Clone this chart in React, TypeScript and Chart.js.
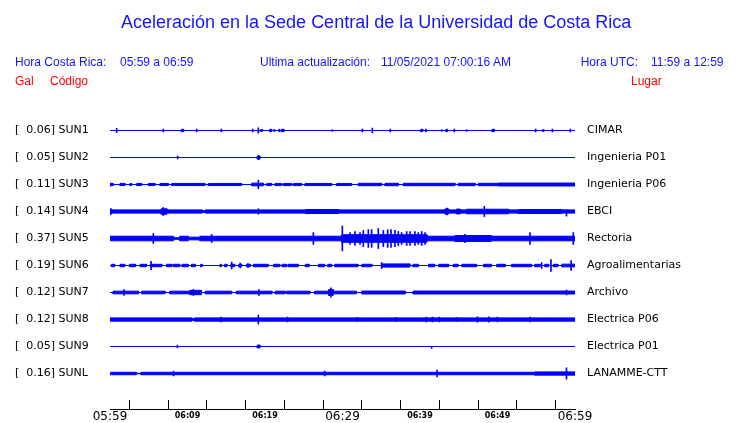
import { useEffect, useRef } from 'react';
import { Chart, registerables } from 'chart.js';

Chart.register(...registerables);

// ---------- data ----------
const stationCodes = ['SUN1', 'SUN2', 'SUN3', 'SUN4', 'SUN5', 'SUN6', 'SUN7', 'SUN8', 'SUN9', 'SUNL'];
const peakGal = [0.06, 0.05, 0.11, 0.14, 0.37, 0.19, 0.12, 0.12, 0.05, 0.16];
const stationPlaces = [
  'CIMAR', 'Ingenieria P01', 'Ingenieria P06', 'EBCI', 'Rectoria',
  'Agroalimentarias', 'Archivo', 'Electrica P06', 'Electrica P01', 'LANAMME-CTT',
];
// minutes after 05:59, one label every 10 minutes
const xTickLabels = ['05:59', '06:09', '06:19', '06:29', '06:39', '06:49', '06:59'];

// background noise half-amplitude of each trace (in trace-spacing units)
const noiseLevel = [0, 0, 0, 0.06, 0.085, 0, 0, 0.06, 0, 0.045];

// noise bursts: [startMinute, endMinute, halfAmplitude]
const burstsSUN1 = [[9.2, 9.5, 0.045], [19.4, 19.7, 0.03], [20.6, 20.85, 0.045], [22.1, 22.45, 0.045], [40.1, 40.35, 0.045], [43.35, 43.55, 0.045], [49.3, 49.6, 0.045], [55.8, 56.0, 0.03]];
const burstsSUN2 = [[19.0, 19.35, 0.055]];
const burstsSUN3 = [[0, 0.43, 0.04], [1.29, 1.94, 0.04], [2.58, 2.8, 0.04], [3.44, 4.09, 0.04], [4.95, 5.81, 0.04], [6.45, 7.53, 0.04], [7.96, 12.26, 0.04], [12.69, 16.99, 0.04], [18.28, 19.78, 0.05], [20.22, 20.86, 0.04], [21.29, 22.15, 0.04], [22.37, 23.44, 0.04], [23.66, 24.73, 0.04], [25.16, 28.6, 0.04], [29.25, 31.18, 0.04], [32.04, 35.05, 0.045], [35.48, 37.2, 0.045], [37.85, 44.52, 0.045], [44.95, 47.1, 0.045], [47.53, 50.11, 0.045], [50.11, 60, 0.055]];
const burstsSUN4 = [[0, 0.25, 0.09], [6.6, 7.35, 0.1], [11.9, 12.3, 0.03], [25.2, 29.5, 0.075], [43.2, 43.7, 0.095], [44.7, 45.2, 0.09], [46.0, 51.4, 0.085], [52.7, 58.3, 0.075]];
const burstsSUN5 = [[8.2, 9.0, 0.03], [10.1, 11.6, 0.05], [29.9, 40.9, 0.14], [44.5, 49.2, 0.11]];
const burstsSUN6 = [[0.2, 0.6, 0.045], [1.3, 1.9, 0.045], [2.5, 3.3, 0.045], [3.9, 4.7, 0.045], [5.2, 6.7, 0.045], [7.3, 8.0, 0.045], [8.2, 9.0, 0.045], [9.3, 10.1, 0.045], [10.5, 11.0, 0.045], [11.7, 11.9, 0.045], [14.2, 14.4, 0.045], [14.8, 15.1, 0.045], [15.6, 16.1, 0.045], [16.6, 17.0, 0.045], [17.6, 18.1, 0.045], [18.5, 20.4, 0.045], [21.1, 21.9, 0.045], [22.2, 22.8, 0.045], [23.0, 24.3, 0.045], [25.2, 25.7, 0.045], [26.9, 27.7, 0.045], [28.1, 28.6, 0.045], [29.0, 32.0, 0.045], [32.5, 33.8, 0.045], [35.1, 38.7, 0.06], [39.1, 39.8, 0.045], [41.1, 41.9, 0.045], [42.4, 43.7, 0.045], [44.3, 44.9, 0.045], [45.4, 47.3, 0.045], [48.2, 49.2, 0.045], [49.9, 51.0, 0.045], [51.8, 54.4, 0.045], [54.8, 55.5, 0.045], [56.1, 56.6, 0.045], [57.2, 57.8, 0.045], [58.3, 60, 0.05]];
const burstsSUN7 = [[0.4, 3.7, 0.05], [4.1, 7.1, 0.05], [7.7, 10.3, 0.05], [10.3, 11.8, 0.08], [12.3, 15.7, 0.05], [16.3, 20.9, 0.05], [21.3, 22.6, 0.05], [22.8, 25.8, 0.05], [26.4, 28.2, 0.05], [28.2, 28.8, 0.11], [28.8, 31.8, 0.05], [32.5, 38.1, 0.055], [39.1, 60, 0.055]];
const burstsSUN8 = [[10.6, 10.9, 0.03]];
const burstsSUN9 = [[19.0, 19.35, 0.055]];
const burstsSUNL = [[3.4, 4.0, 0.01], [54.8, 60, 0.06]];

// single spikes: [minute, halfAmplitudeUp, halfAmplitudeDown?]
const spikesSUN1 = [[0.86, 0.08], [6.88, 0.055], [11.18, 0.055], [14.37, 0.055], [18.41, 0.055], [19.14, 0.1], [21.2, 0.04], [21.85, 0.05], [28.69, 0.03], [32.56, 0.055], [33.85, 0.09], [36.17, 0.055], [40.77, 0.055], [42.8, 0.03], [44.43, 0.055], [46.02, 0.03], [54.92, 0.055], [57.08, 0.055], [59.4, 0.055]];
const spikesSUN2 = [[8.73, 0.055], [19.18, 0.08]];
const spikesSUN3 = [[0.1, 0.05], [19.14, 0.16]];
const spikesSUN4 = [[0.05, 0.11], [6.88, 0.15], [19.14, 0.1], [43.5, 0.13], [48.3, 0.19], [58.9, 0.06, 0.17]];
const spikesSUN5 = [[5.59, 0.185], [13.12, 0.15], [26.24, 0.22], [29.98, 0.46], [30.97, 0.22], [31.61, 0.26], [32.26, 0.22], [32.69, 0.3], [33.33, 0.33], [33.76, 0.33], [34.62, 0.37], [35.27, 0.3], [35.83, 0.33], [36.26, 0.33], [36.77, 0.3], [37.2, 0.26], [37.63, 0.22], [38.28, 0.26], [38.71, 0.26], [39.35, 0.26], [39.78, 0.22], [40.22, 0.26], [40.65, 0.22], [45.81, 0.15], [54.19, 0.22], [59.78, 0.22]];
const spikesSUN6 = [[5.3, 0.15], [15.7, 0.13], [16.8, 0.09], [17.8, 0.075], [35.05, 0.11], [55.7, 0.11], [56.9, 0.22], [59.5, 0.185]];
const spikesSUN7 = [[1.8, 0.11], [10.75, 0.11], [19.2, 0.11], [28.5, 0.17], [58.9, 0.09]];
const spikesSUN8 = [[19.14, 0.165], [14.3, 0.09], [22.9, 0.09], [31.9, 0.08], [36.9, 0.08], [40.8, 0.09], [41.6, 0.09], [42.5, 0.09], [44.7, 0.08], [47.4, 0.1], [48.9, 0.1], [50.0, 0.09], [54.2, 0.09]];
const spikesSUN9 = [[8.7, 0.05], [41.5, 0.0, 0.07]];
const spikesSUNL = [[8.2, 0.09], [27.7, 0.09], [42.2, 0.13], [58.9, 0.21]];

const allBursts = [burstsSUN1, burstsSUN2, burstsSUN3, burstsSUN4, burstsSUN5, burstsSUN6, burstsSUN7, burstsSUN8, burstsSUN9, burstsSUNL];
const allSpikes = [spikesSUN1, spikesSUN2, spikesSUN3, spikesSUN4, spikesSUN5, spikesSUN6, spikesSUN7, spikesSUN8, spikesSUN9, spikesSUNL];

const BLUE = '#0000ff';
const TEXT_BLUE = '#1414ff';
const RED = '#ff0000';
const SANS = '"Liberation Sans", Arial, sans-serif';
const DEJAVU = '"DejaVu Sans", sans-serif';

// envelope outline with vertical edges at each burst boundary
function envelope(base: number, bursts: number[][]) {
  const pts: number[][] = [[0, base]];
  for (const [s, e, a] of bursts) {
    pts.push([s, base]);
    pts.push([s, a]);
    pts.push([e, a]);
    pts.push([e, base]);
  }
  pts.push([60, base]);
  return pts;
}

export default function App() {
  const ref = useRef<HTMLCanvasElement>(null);

  useEffect(() => {
    if (!ref.current) return;
    const datasets: any[] = [];
    stationCodes.forEach((_, i) => {
      const pts = envelope(noiseLevel[i], allBursts[i]);
      datasets.push({
        type: 'line',
        data: pts.map(([x, a]) => ({ x, y: i - a })),
        borderColor: BLUE,
        borderWidth: 1,
        pointRadius: 0,
        tension: 0,
        fill: false,
      });
      datasets.push({
        type: 'line',
        data: pts.map(([x, a]) => ({ x, y: i + a })),
        borderColor: BLUE,
        backgroundColor: BLUE,
        borderWidth: 1,
        pointRadius: 0,
        tension: 0,
        fill: '-1',
      });
    });
    const spikeData: any[] = [];
    allSpikes.forEach((list, i) => {
      list.forEach((s) => {
        const up = s[1];
        const down = s.length > 2 ? s[2] : s[1];
        spikeData.push({ x: s[0], y: [i - up, i + down] });
      });
    });
    datasets.push({
      type: 'bar',
      data: spikeData,
      backgroundColor: BLUE,
      borderWidth: 0,
      barThickness: 1,
      grouped: false,
    });

    const rowTicks = (scale: any) => {
      scale.ticks = stationCodes.map((_, i) => ({ value: i }));
    };

    const chart = new Chart(ref.current, {
      type: 'bar',
      data: { datasets },
      options: {
        responsive: false,
        devicePixelRatio: 1,
        animation: false,
        events: [],
        layout: { padding: { top: 103, left: 15, right: 0, bottom: 0 } },
        plugins: { legend: { display: false }, tooltip: { enabled: false }, title: { display: false } },
        scales: {
          x: {
            type: 'linear',
            min: 0,
            max: 60,
            offset: false,
            afterBuildTicks: (scale: any) => {
              const t = [];
              for (let m = 0; m <= 60; m += 5) t.push({ value: m });
              scale.ticks = t;
            },
            afterFit: (scale: any) => { scale.height = 14; },
            grid: { display: true, drawOnChartArea: false, drawTicks: true, tickLength: -9, color: '#000', lineWidth: 1 },
            border: { display: true, color: '#000', width: 1 },
            ticks: {
              autoSkip: false,
              maxRotation: 0,
              minRotation: 0,
              padding: 10,
              color: '#000',
              callback: (v: any) => (Number(v) % 10 === 0 ? xTickLabels[Number(v) / 10] : ''),
              font: (ctx: any) => {
                const v = ctx.tick ? ctx.tick.value : 0;
                return v % 30 === 0
                  ? { family: DEJAVU, size: 12, weight: 'normal', lineHeight: 1.2 }
                  : { family: DEJAVU, size: 8, weight: 'bold', lineHeight: 1.6 };
              },
            },
          },
          y: {
            type: 'linear',
            position: 'left',
            min: -1 - 0.5 / 27,
            max: 10.333 - 0.5 / 27,
            reverse: true,
            afterBuildTicks: rowTicks,
            afterFit: (scale: any) => { scale.width = 95; },
            grid: { display: false, drawTicks: false },
            border: { display: false },
            ticks: {
              autoSkip: false,
              crossAlign: 'far',
              padding: 0,
              color: '#000',
              font: { family: DEJAVU, size: 11 },
              callback: (_v: any, idx: number) =>
                `[${peakGal[idx].toFixed(2).padStart(6, ' ')}] ${stationCodes[idx]}`,
            },
          },
          y2: {
            type: 'linear',
            position: 'right',
            min: -1 - 0.5 / 27,
            max: 10.333 - 0.5 / 27,
            reverse: true,
            afterBuildTicks: rowTicks,
            afterFit: (scale: any) => { scale.width = 165; },
            grid: { display: false, drawTicks: true, tickLength: 12 },
            border: { display: false },
            ticks: {
              autoSkip: false,
              padding: 0,
              color: '#000',
              font: { family: DEJAVU, size: 11 },
              callback: (_v: any, idx: number) => stationPlaces[idx],
            },
          },
        },
      } as any,
    });
    return () => chart.destroy();
  }, []);

  const txt = (left: number, top: number, size: number, color: string, s: string) => (
    <div
      style={{
        position: 'absolute', left, top, fontFamily: SANS, fontSize: size, lineHeight: 1,
        color, whiteSpace: 'pre', margin: 0,
      }}
    >
      {s}
    </div>
  );

  return (
    <div style={{ position: 'absolute', left: 0, top: 0, width: 740, height: 423, background: '#fff', overflow: 'hidden' }}>
      <canvas ref={ref} width={740} height={423} style={{ position: 'absolute', left: 0, top: 0, width: 740, height: 423 }} />
      {txt(121, 13, 18, TEXT_BLUE, 'Aceleración en la Sede Central de la Universidad de Costa Rica')}
      {txt(15, 55.6, 12, TEXT_BLUE, 'Hora Costa Rica:')}
      {txt(120, 55.6, 12, TEXT_BLUE, '05:59 a 06:59')}
      {txt(260, 55.6, 12, TEXT_BLUE, 'Ultima actualización:')}
      {txt(381, 55.6, 12, TEXT_BLUE, '11/05/2021 07:00:16 AM')}
      {txt(580.7, 55.6, 12, TEXT_BLUE, 'Hora UTC:')}
      {txt(651, 55.6, 12, TEXT_BLUE, '11:59 a 12:59')}
      {txt(15, 74.5, 12, RED, 'Gal')}
      {txt(50, 74.5, 12, RED, 'Código')}
      {txt(631, 74.5, 12, RED, 'Lugar')}
    </div>
  );
}
